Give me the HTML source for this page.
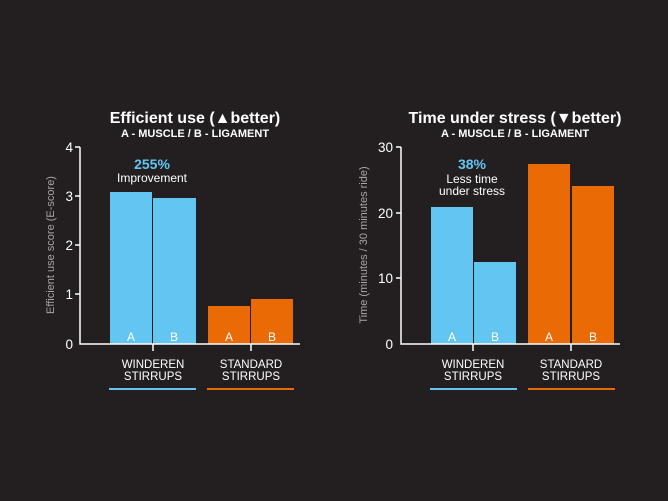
<!DOCTYPE html>
<html><head><style>
html,body{margin:0;padding:0;background:#231f20;}
svg{display:block;}
text{font-family:"Liberation Sans",sans-serif;}
</style></head><body>
<svg width="668" height="501" viewBox="0 0 668 501" xmlns="http://www.w3.org/2000/svg">
<rect width="668" height="501" fill="#231f20"/>
<!-- Left chart -->
<text x="195" y="123" fill="#fff" font-size="16" font-weight="bold" text-anchor="middle">Efficient use (▲better)</text>
<text x="195" y="137" fill="#fff" font-size="11" font-weight="bold" text-anchor="middle">A - MUSCLE / B - LIGAMENT</text>
<rect x="110" y="192" width="42" height="152" fill="#63c6f2"/>
<rect x="153" y="198" width="43" height="146" fill="#63c6f2"/>
<rect x="208" y="306" width="42" height="38" fill="#ea6a06"/>
<rect x="251" y="299" width="42" height="45" fill="#ea6a06"/>
<g fill="#fff" font-size="12" text-anchor="middle">
<text x="131" y="341">A</text><text x="174" y="341">B</text>
<text x="229" y="341">A</text><text x="272" y="341">B</text>
</g>
<g stroke="#fff" stroke-width="1.5" fill="none">
<path d="M80 147V344H300"/>
<path d="M75 147H80M75 196H80M75 245H80M75 294H80M153 344V351M251 344V351"/>
</g>
<g fill="#fff" font-size="13.5" text-anchor="end">
<text x="73" y="152">4</text><text x="73" y="201">3</text><text x="73" y="250">2</text><text x="73" y="299">1</text><text x="73" y="349">0</text>
</g>
<text transform="translate(54,245) rotate(-90)" fill="#a7a5a5" font-size="11" text-anchor="middle">Efficient use score (E-score)</text>
<text x="152" y="169" fill="#63c6f2" font-size="14" font-weight="bold" text-anchor="middle">255%</text>
<text x="152" y="182" fill="#fff" font-size="12" text-anchor="middle">Improvement</text>
<g fill="#fff" font-size="11.5" text-anchor="middle">
<text x="153" y="368">WINDEREN</text><text x="153" y="380">STIRRUPS</text>
<text x="251" y="368">STANDARD</text><text x="251" y="380">STIRRUPS</text>
</g>
<rect x="109" y="388" width="87" height="2" fill="#63c6f2"/>
<rect x="207" y="388" width="87" height="2" fill="#ea6a06"/>
<!-- Right chart -->
<text x="515" y="123" fill="#fff" font-size="16" font-weight="bold" text-anchor="middle">Time under stress (▼better)</text>
<text x="515" y="137" fill="#fff" font-size="11" font-weight="bold" text-anchor="middle">A - MUSCLE / B - LIGAMENT</text>
<rect x="431" y="207" width="42" height="137" fill="#63c6f2"/>
<rect x="474" y="262" width="42" height="82" fill="#63c6f2"/>
<rect x="528" y="164" width="42" height="180" fill="#ea6a06"/>
<rect x="572" y="186" width="42" height="158" fill="#ea6a06"/>
<g fill="#fff" font-size="12" text-anchor="middle">
<text x="452" y="341">A</text><text x="495" y="341">B</text>
<text x="549" y="341">A</text><text x="593" y="341">B</text>
</g>
<g stroke="#fff" stroke-width="1.5" fill="none">
<path d="M401 147V344H620"/>
<path d="M396 147H401M396 213H401M396 278H401M473 344V351M571 344V351"/>
</g>
<g fill="#fff" font-size="13.5" text-anchor="end">
<text x="393" y="152">30</text><text x="393" y="218">20</text><text x="393" y="283">10</text><text x="393" y="349">0</text>
</g>
<text transform="translate(367,245) rotate(-90)" fill="#a7a5a5" font-size="11" text-anchor="middle">Time (minutes / 30 minutes ride)</text>
<text x="472" y="169" fill="#63c6f2" font-size="14" font-weight="bold" text-anchor="middle">38%</text>
<text x="472" y="183" fill="#fff" font-size="12" text-anchor="middle">Less time</text>
<text x="472" y="195" fill="#fff" font-size="12" text-anchor="middle">under stress</text>
<g fill="#fff" font-size="11.5" text-anchor="middle">
<text x="473" y="368">WINDEREN</text><text x="473" y="380">STIRRUPS</text>
<text x="571" y="368">STANDARD</text><text x="571" y="380">STIRRUPS</text>
</g>
<rect x="430" y="388" width="87" height="2" fill="#63c6f2"/>
<rect x="528" y="388" width="87" height="2" fill="#ea6a06"/>
</svg>
</body></html>
